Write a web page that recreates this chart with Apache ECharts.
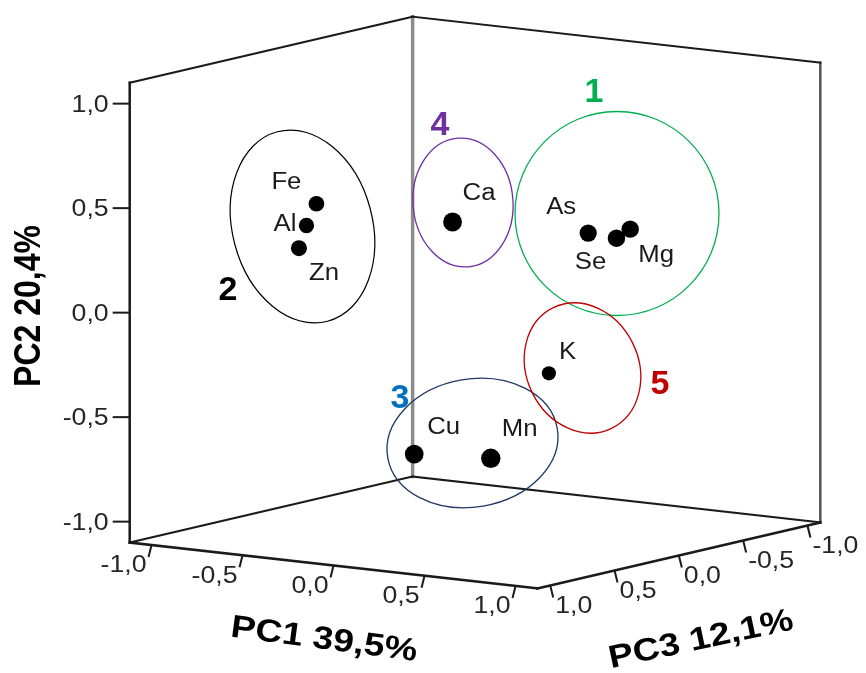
<!DOCTYPE html>
<html><head><meta charset="utf-8">
<script src="https://cdn.jsdelivr.net/npm/echarts@6/dist/echarts.min.js"></script>
<style>html,body{margin:0;padding:0;background:#fff}#chart{width:866px;height:673px}</style>
</head><body><div id="chart"></div>
<script>
// ---------------- data ----------------
const elements = ['Fe', 'Al', 'Zn', 'Ca', 'As', 'Se', 'Mg', 'K', 'Cu', 'Mn'];
const pc1 = [-0.73, -0.82, -0.72, 0.23, 0.41, 0.53, 0.57, -0.23, 0.09, 0.44];
const pc2 = [0.43, 0.31, 0.24, 0.48, 0.33, 0.31, 0.35, -0.49, -0.63, -0.63];
const pc3 = [0.20, 0.15, 0.35, 0.50, -0.30, -0.35, -0.40, -0.90, 0.60, 0.50];
const tickValues = [-1.0, -0.5, 0.0, 0.5, 1.0];
const tickLabels = ['-1,0', '-0,5', '0,0', '0,5', '1,0'];
const axisTitles = ['PC1 39,5%', 'PC2 20,4%', 'PC3 12,1%'];
const axisRange = [1.12, 1.10, 1.10];
const clusterIds = ['1', '2', '3', '4', '5'];

// ---------------- view / styles ----------------
const W = 866, H = 673;
const VIEW = {ux: 182, uy: -20.5, vy: 209, wx: -128.6, wy: -30, cx: 475, cy: 302.6};
function proj(a, b, c) {
  return [VIEW.ux * a + VIEW.wx * c, VIEW.uy * a + VIEW.vy * b + VIEW.wy * c];
}
const FONT = "'Liberation Sans', Arial, sans-serif";
const STRETCH = 1.16;
const R = axisRange;
const corner = s => proj(s[0] * R[0], s[1] * R[1], s[2] * R[2]);

const EDGES = [
  [[-1, -1, 1], [-1, 1, 1], '#1a1a1a', 2.5],
  [[-1, -1, -1], [-1, 1, -1], '#8c8c8c', 3.5],
  [[1, -1, -1], [1, 1, -1], '#555555', 2.5],
  [[-1, 1, 1], [-1, 1, -1], '#1a1a1a', 2],
  [[-1, 1, -1], [1, 1, -1], '#1a1a1a', 2],
  [[-1, -1, 1], [-1, -1, -1], '#1a1a1a', 2],
  [[-1, -1, -1], [1, -1, -1], '#1a1a1a', 2],
  [[-1, -1, 1], [1, -1, 1], '#1a1a1a', 2.5],
  [[1, -1, 1], [1, -1, -1], '#1a1a1a', 2.5]
];
const edgeData = EDGES.map((e, i) => {
  const a = corner(e[0]), b = corner(e[1]);
  return [a[0], a[1], b[0], b[1], i];
});

const TICK_STYLE = [
  {dx: -3, dy: 12, lx: -5, ly: 21, align: 'right'},
  {dx: -17, dy: 0, lx: -21, ly: 2, align: 'right'},
  {dx: 3, dy: 12, lx: 5, ly: 21, align: 'left'}
];
const tickData = [];
tickValues.forEach((t, k) => {
  const pts = [proj(t, -R[1], R[2]), proj(-R[0], t, R[2]), proj(R[0], -R[1], t)];
  pts.forEach((p, ax) => tickData.push([p[0], p[1], ax, k]));
});

const pointData = elements.map((n, i) => {
  const p = proj(pc1[i], pc2[i], pc3[i]);
  return [p[0], p[1], (pc1[i] + pc3[i]) / 2, i];
});

// label placement (pixel offsets from the point)
const LABEL_POS = {
  Fe: [-30, -21, 'center'], Al: [-10, -1, 'right'], Zn: [10, 25, 'left'],
  Ca: [10, -28, 'left'], As: [-12, -25, 'right'], Se: [-26, 24, 'center'],
  Mg: [8, 27, 'left'], K: [10, -21, 'left'], Cu: [13, -26, 'left'], Mn: [11, -29, 'left']
};

function txt(text, x, y, o) {
  o = o || {};
  return {
    type: 'text', x: x, y: y, rotation: o.rotation || 0,
    scaleX: o.scaleX || 1, scaleY: o.scaleY || 1, z: 100,
    style: {
      text: text, fill: o.fill || '#000', fontSize: o.size || 24,
      fontWeight: o.weight || 'normal', fontFamily: FONT,
      align: o.align || 'center', textAlign: o.align || 'center',
      verticalAlign: 'middle', textVerticalAlign: 'middle'
    }
  };
}
function ell(cx, cy, rx, ry, rot, color, lw) {
  return {type: 'ellipse', x: cx, y: cy, rotation: rot, z: 90,
    shape: {cx: 0, cy: 0, rx: rx, ry: ry},
    style: {fill: 'none', stroke: color, lineWidth: lw || 1.3}};
}

const CLUSTER_STYLE = [
  {c: '#00b050', lab: [594, 93], e: [617, 213.5, 102, 102, 0]},
  {c: '#000000', lab: [228, 291], e: [302.5, 226.5, 70, 98, 0.26]},
  {c: '#0070c0', ec: '#1f3864', lab: [400, 399], e: [472.5, 443, 86, 64, 0.17]},
  {c: '#7030a0', lab: [440, 126], e: [463, 202.5, 50, 64.5, 0.08]},
  {c: '#c00000', lab: [660, 385], e: [582.5, 368, 56, 67, 0.45]}
];

const graphics = [];
clusterIds.forEach((id, i) => {
  const s = CLUSTER_STYLE[i];
  graphics.push(ell(s.e[0], s.e[1], s.e[2], s.e[3], s.e[4], s.ec || s.c, i === 1 ? 1.2 : 1.3));
  graphics.push(txt(id, s.lab[0], s.lab[1], {fill: s.c, size: 34, weight: 'bold'}));
});
graphics.push(txt(axisTitles[1], 30, 306, {rotation: Math.PI / 2, scaleY: STRETCH, size: 32, weight: 'bold'}));
graphics.push(txt(axisTitles[0], 324, 640, {rotation: -0.13, scaleX: STRETCH, size: 32, weight: 'bold'}));
graphics.push(txt(axisTitles[2], 701, 640, {rotation: 0.21, scaleX: STRETCH, size: 32, weight: 'bold'}));

const chart = echarts.init(document.getElementById('chart'));
chart.setOption({
  animation: false,
  backgroundColor: '#fff',
  grid: {left: 0, right: 0, top: 0, bottom: 0},
  xAxis: {type: 'value', min: -VIEW.cx, max: W - VIEW.cx, show: false},
  yAxis: {type: 'value', min: VIEW.cy - H, max: VIEW.cy, show: false},
  graphic: graphics,
  series: [
    {
      type: 'custom', name: 'box', data: edgeData, clip: false, silent: true, z: 1,
      encode: {x: 0, y: 1},
      renderItem: (params, api) => {
        const a = api.coord([api.value(0), api.value(1)]);
        const b = api.coord([api.value(2), api.value(3)]);
        const e = EDGES[api.value(4)];
        return {type: 'line', shape: {x1: a[0], y1: a[1], x2: b[0], y2: b[1]},
          style: {stroke: e[2], lineWidth: e[3], lineCap: 'square'}};
      }
    },
    {
      type: 'custom', name: 'ticks', data: tickData, clip: false, silent: true, z: 2,
      encode: {x: 0, y: 1},
      renderItem: (params, api) => {
        const p = api.coord([api.value(0), api.value(1)]);
        const c = TICK_STYLE[api.value(2)];
        const t = txt(tickLabels[api.value(3)], p[0] + c.lx, p[1] + c.ly,
          {align: c.align, size: 23, fill: '#262626', scaleX: STRETCH});
        return {type: 'group', children: [
          {type: 'line', shape: {x1: p[0], y1: p[1], x2: p[0] + c.dx, y2: p[1] + c.dy},
            style: {stroke: '#1a1a1a', lineWidth: 2}},
          t
        ]};
      }
    },
    {
      type: 'scatter', name: 'loadings', data: pointData, z: 5, silent: true,
      symbol: 'circle',
      symbolSize: v => 17 + 5 * v[2],
      itemStyle: {color: '#000', opacity: 1}
    },
    {
      type: 'custom', name: 'labels', data: pointData, clip: false, silent: true, z: 6,
      encode: {x: 0, y: 1},
      renderItem: (params, api) => {
        const p = api.coord([api.value(0), api.value(1)]);
        const name = elements[api.value(3)];
        const o = LABEL_POS[name];
        return txt(name, p[0] + o[0], p[1] + o[1], {align: o[2], size: 23, fill: '#1a1a1a', scaleX: 1.12});
      }
    }
  ]
});
</script>
</body></html>
